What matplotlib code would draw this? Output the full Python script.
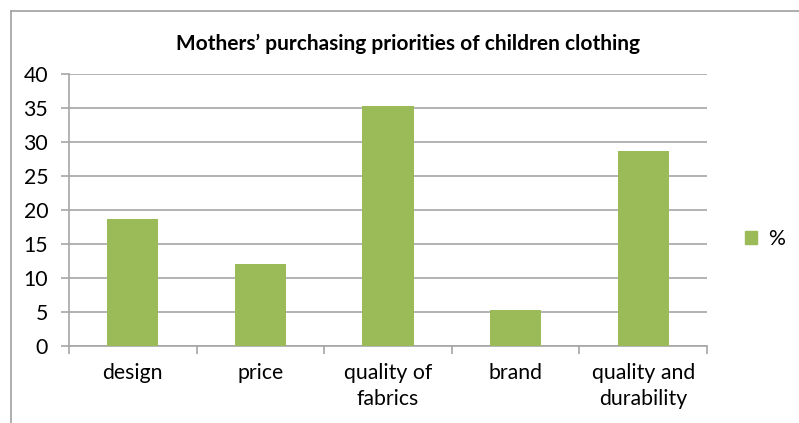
import matplotlib
matplotlib.use("Agg")
import matplotlib.pyplot as plt
from matplotlib.lines import Line2D
from matplotlib.patches import Patch

categories = ["design", "price", "quality of\nfabrics", "brand", "quality and\ndurability"]
values = [18.7, 12.0, 35.3, 5.3, 28.7]
series_name = "%"
yticks = [0, 5, 10, 15, 20, 25, 30, 35, 40]

W, H = 799, 423
fig = plt.figure(figsize=(W / 100, H / 100), dpi=100)
plt.rcParams["font.family"] = ["Lato", "DejaVu Sans"]

green = "#9BBB59"
grid_c = "#A6A6A6"
fs = 15.3

# chart frame (top and left edges)
fig.add_artist(Line2D([11 / W, 11 / W], [0, 1 - 11 / H], color="#A0A0A0", lw=1.2))
fig.add_artist(Line2D([11 / W, 1], [1 - 11 / H, 1 - 11 / H], color="#A0A0A0", lw=1.2))

ax = fig.add_axes([69 / W, 1 - 346 / H, (707 - 69) / W, (346 - 74) / H])
x = list(range(len(categories)))
ax.bar(x, values, width=0.4, color=green, zorder=3)
ax.set_xlim(-0.5, len(categories) - 0.5)
ax.set_ylim(0, 40)
ax.set_yticks(yticks)
ax.set_yticklabels([str(t) for t in yticks], fontsize=fs)
ax.yaxis.grid(True, color=grid_c, lw=1.2, zorder=0)
ax.set_axisbelow(True)

ax.set_xticks(x)
ax.set_xticklabels(categories, fontsize=fs, linespacing=1.4)
ax.tick_params(axis="x", length=0, pad=12)
ax.set_xticks([i - 0.5 for i in range(len(categories) + 1)], minor=True)
ax.tick_params(axis="x", which="minor", length=6, color=grid_c, width=1.2)
ax.tick_params(axis="y", length=6, color=grid_c, width=1.2, pad=9)

for s in ["top", "right"]:
    ax.spines[s].set_visible(False)
for s in ["left", "bottom"]:
    ax.spines[s].set_color(grid_c)
    ax.spines[s].set_linewidth(1.2)

fig.text(408 / W, 1 - 44 / H, "Mothers\u2019 purchasing priorities of children clothing",
         ha="center", va="center", fontsize=15, fontweight="bold")

fig.legend(handles=[Patch(color=green, label=series_name)], loc="center left",
           bbox_to_anchor=(726 / W, 1 - 239 / H), frameon=False, fontsize=fs,
           handlelength=0.55, handleheight=0.55, handletextpad=0.55)

fig.savefig("out.png", dpi=100)
